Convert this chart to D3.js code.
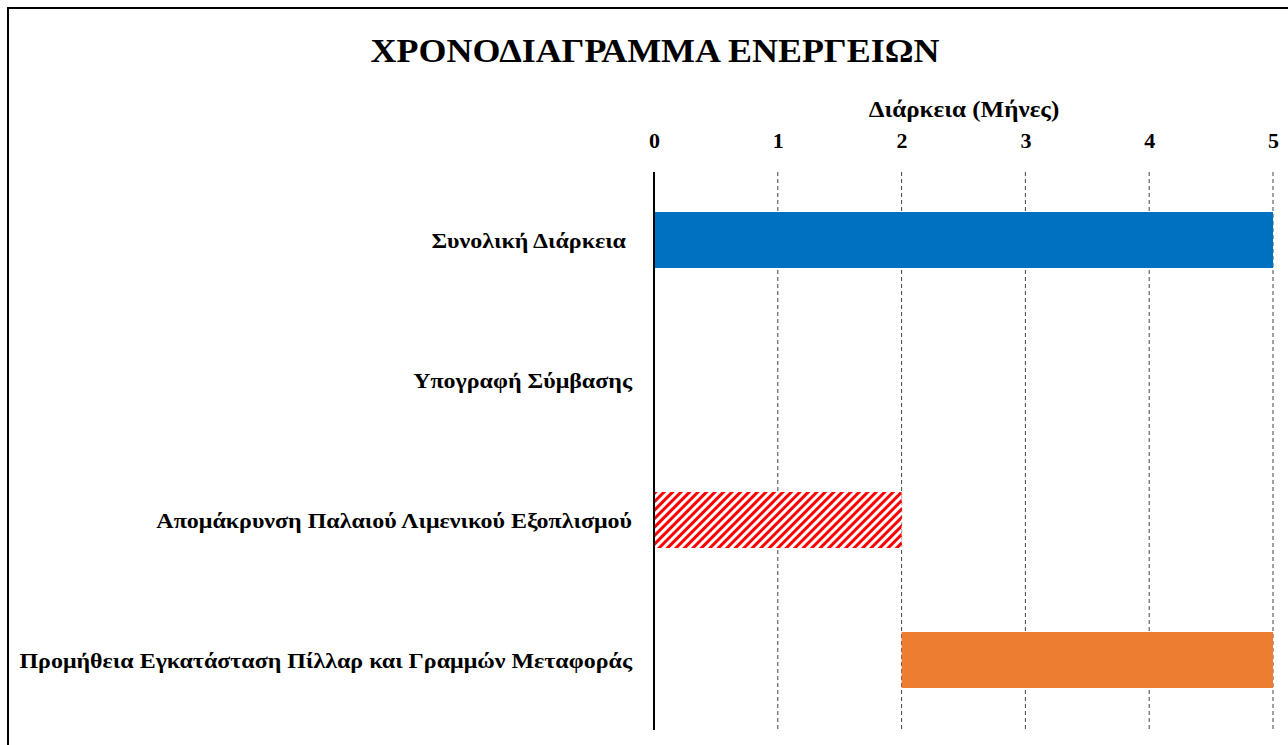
<!DOCTYPE html>
<html><head><meta charset="utf-8">
<script src="https://cdn.jsdelivr.net/npm/d3@7"></script>
<style>body{margin:0;background:#fff}svg{display:block}</style>
</head><body>
<svg id="c" width="1288" height="745"></svg>
<script>
const categories = ["Συνολική Διάρκεια ", "Υπογραφή Σύμβασης", "Απομάκρυνση Παλαιού Λιμενικού Εξοπλισμού", "Προμήθεια Εγκατάσταση Πίλλαρ και Γραμμών Μεταφοράς"];
const starts = [0, 0, 0, 2];
const durations = [5, 0, 2, 3];
const fills = ["#0070C0", "none", "url(#hatch)", "#ED7D31"];
const ticks = [0, 1, 2, 3, 4, 5];
const title = "ΧΡΟΝΟΔΙΑΓΡΑΜΜΑ ΕΝΕΡΓΕΙΩΝ";
const axisTitle = "Διάρκεια (Μήνες)";

const svg = d3.select("#c");
const font = "'Liberation Serif','Times New Roman',serif";
const sx = 1.09;
const defs = svg.append("defs");
const pat = defs.append("pattern").attr("id","hatch").attr("patternUnits","userSpaceOnUse")
  .attr("width",6).attr("height",6).attr("patternTransform","rotate(45)");
pat.append("rect").attr("width",6).attr("height",6).attr("fill","#fff");
pat.append("rect").attr("x",0).attr("width",3).attr("height",6).attr("fill","#FF0000");

svg.append("rect").attr("x",8).attr("y",8).attr("width",1290).attr("height",760)
  .attr("fill","none").attr("stroke","#000").attr("stroke-width",2);

const x = d3.scaleLinear().domain([0,5]).range([654,1273]);
const y = d3.scaleBand().domain(categories).range([170,730]).paddingInner(0.6).paddingOuter(0.3);

svg.append("text").attr("transform",`translate(655,62) scale(${sx},1)`).attr("text-anchor","middle")
  .attr("font-family",font).attr("font-weight","bold").attr("font-size",33).text(title);
svg.append("text").attr("transform",`translate(964,117) scale(${sx},1)`).attr("text-anchor","middle")
  .attr("font-family",font).attr("font-weight","bold").attr("font-size",23).text(axisTitle);

const ax = svg.append("g").attr("transform","translate(0,151)")
  .call(d3.axisTop(x).tickValues(ticks).tickSize(0).tickFormat(d3.format("d")));
ax.select(".domain").remove();
ax.selectAll("text").attr("font-family",font).attr("font-weight","bold").attr("font-size",22).attr("fill","#000").attr("dy",0);

svg.append("g").selectAll("line").data(ticks.slice(1)).join("line")
  .attr("x1",d=>x(d)).attr("x2",d=>x(d)).attr("y1",172).attr("y2",730)
  .attr("stroke","#444").attr("stroke-width",1).attr("stroke-dasharray","4,3");

svg.append("g").selectAll("rect").data(categories).join("rect")
  .attr("x",(d,i)=>x(starts[i])).attr("y",d=>y(d))
  .attr("width",(d,i)=>x(starts[i]+durations[i])-x(starts[i]))
  .attr("height",y.bandwidth())
  .attr("fill",(d,i)=>fills[i]);

svg.append("line").attr("x1",654).attr("x2",654).attr("y1",172).attr("y2",730)
  .attr("stroke","#000").attr("stroke-width",2);

svg.append("g").selectAll("text").data(categories).join("text")
  .attr("transform",d=>`translate(632,${y(d)+y.bandwidth()/2}) scale(${sx},1)`).attr("dy","0.35em")
  .attr("text-anchor","end").attr("font-family",font).attr("font-weight","bold").attr("font-size",22)
  .attr("xml:space","preserve").style("white-space","pre").text(d=>d);
</script>
</body></html>
